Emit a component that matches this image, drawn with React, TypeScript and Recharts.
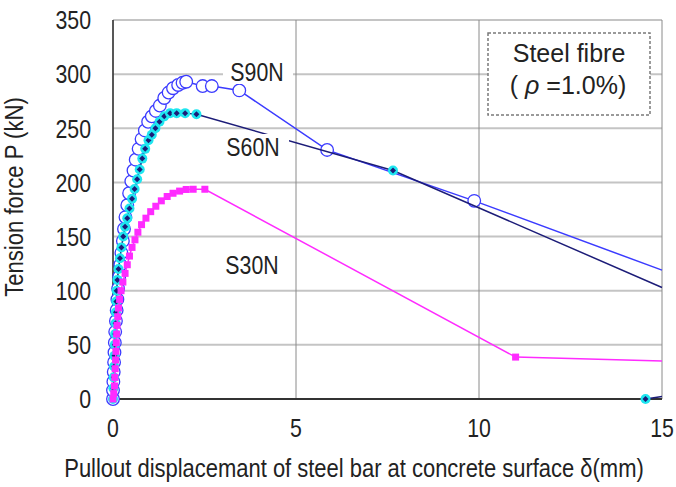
import React from 'react';
import { ScatterChart, Scatter, XAxis, YAxis, CartesianGrid } from 'recharts';

// Arial-Narrow-like lettering: Liberation Sans squeezed horizontally
const SANS = "'Liberation Sans', Arial, sans-serif";
const SQUEEZE = 0.82;

const xTicks = [0, 5, 10, 15];
const yTicks = [0, 50, 100, 150, 200, 250, 300, 350];

// pullout displacement δ (mm), tension force P (kN)
const s90Points: [number, number][] = [
  [0, 0], [0, 8], [0.01, 16], [0.02, 25], [0.03, 34], [0.04, 43], [0.05, 52], [0.06, 62],
  [0.08, 72], [0.1, 82], [0.12, 92], [0.14, 102], [0.17, 113], [0.2, 124], [0.23, 135],
  [0.27, 146], [0.3, 157], [0.34, 168], [0.39, 179], [0.44, 190], [0.5, 201], [0.56, 211],
  [0.62, 221], [0.7, 231], [0.78, 240], [0.87, 248], [0.96, 256], [1.06, 261], [1.17, 266],
  [1.28, 271], [1.4, 278], [1.52, 283], [1.64, 287], [1.78, 290], [1.9, 292], [2.0, 293],
  [2.45, 289], [2.7, 289], [3.45, 285], [5.85, 230], [9.87, 183],
];
const s90End: [number, number] = [15, 119];

const s60Points: [number, number][] = [
  [0, 0], [0.01, 10], [0.02, 20], [0.03, 30], [0.04, 40], [0.05, 50], [0.06, 60], [0.07, 70],
  [0.08, 80], [0.09, 90], [0.1, 100], [0.12, 110], [0.15, 120], [0.19, 130], [0.23, 140],
  [0.28, 150], [0.33, 159], [0.39, 167], [0.45, 176], [0.52, 185], [0.59, 194], [0.66, 203],
  [0.73, 212], [0.8, 222], [0.88, 231], [0.97, 239], [1.06, 244], [1.16, 250], [1.27, 256],
  [1.4, 261], [1.56, 264], [1.74, 264], [1.97, 264], [2.28, 263], [7.65, 211],
];
const s60End: [number, number] = [15, 103];
const s60Tail: [number, number][] = [[14.55, 0]];
const s60TailEnd: [number, number] = [15, 2.4];

const s30Points: [number, number][] = [
  [0, 0], [0.02, 5], [0.04, 12], [0.05, 20], [0.06, 28], [0.07, 36], [0.08, 44], [0.09, 52],
  [0.1, 60], [0.11, 68], [0.13, 76], [0.15, 84], [0.18, 92], [0.22, 100], [0.27, 108],
  [0.33, 116], [0.39, 124], [0.45, 132], [0.52, 140], [0.6, 147], [0.68, 154], [0.78, 161],
  [0.9, 167], [1.03, 173], [1.17, 178], [1.32, 183], [1.48, 187], [1.64, 190], [1.82, 192],
  [2.0, 193.5], [2.19, 193.7], [2.51, 193.7], [11.0, 38.7],
];
const s30End: [number, number] = [15, 35];

type Pt = { x: number; y: number; edge?: boolean };

// the last point of a branch sits on the plot edge and carries no marker
const toData = (pts: [number, number][], end?: [number, number]): Pt[] => [
  ...pts.map(([x, y]) => ({ x, y })),
  ...(end ? [{ x: end[0], y: end[1], edge: true }] : []),
];

const S90_COLOR = '#3b3bff';
const S60_LINE = '#1c1c78';
const S60_FILL = '#1ee6f0';
const S30_COLOR = '#ff2bff';
const TEXT = '#222';

const OpenCircle = (p: any) =>
  p.payload?.edge ? <g /> : (
    <circle cx={p.cx} cy={p.cy} r={6.3} fill="#fff" stroke={S90_COLOR} strokeWidth={1.3} />
  );

const CyanDiamond = (p: any) =>
  p.payload?.edge ? <g /> : (
    <g>
      <circle cx={p.cx} cy={p.cy} r={5} fill={S60_FILL} />
      <path
        d={`M${p.cx},${p.cy - 3}L${p.cx + 3},${p.cy}L${p.cx},${p.cy + 3}L${p.cx - 3},${p.cy}Z`}
        fill={S60_LINE}
      />
    </g>
  );

const PinkSquare = (p: any) =>
  p.payload?.edge ? <g /> : (
    <rect x={p.cx - 3.5} y={p.cy - 3.5} width={7} height={7} fill={S30_COLOR} />
  );

// condensed text drawn around its anchor point
function NText({ x, y, children, anchor = 'middle', dy, size = 26, rotate = 0, squeeze = SQUEEZE }: any) {
  return (
    <g transform={`translate(${x},${y}) rotate(${rotate}) scale(${squeeze},1)`}>
      <text x={0} y={0} dy={dy} textAnchor={anchor} fontFamily={SANS} fontSize={size} fill={TEXT}>
        {children}
      </text>
    </g>
  );
}

const XTick = ({ x, y, payload }: any) => (
  <NText x={x} y={y} dy="0.71em">{payload.value}</NText>
);

const YTick = ({ x, y, payload }: any) => (
  <NText x={x} y={y} dy="0.355em" anchor="end">{payload.value}</NText>
);

function SeriesLabel({ x, y, text }: { x: number; y: number; text: string }) {
  return (
    <g>
      <rect x={x - 34} y={y - 22} width={70} height={25} fill="#fff" />
      <NText x={x} y={y}>{text}</NText>
    </g>
  );
}

export default function App() {
  return (
    <div style={{ position: 'absolute', top: 0, left: 0, width: 676, height: 487, background: '#fff' }}>
      <ScatterChart width={676} height={487} margin={{ top: 20, right: 14, bottom: 0, left: 0 }}>
        <CartesianGrid vertical={false} stroke="#c4c4c4" strokeWidth={2} />
        <CartesianGrid horizontal={false} stroke="#8a8a8a" strokeWidth={1} />
        <XAxis
          type="number"
          dataKey="x"
          domain={[0, 15]}
          ticks={xTicks}
          interval={0}
          height={88}
          tickSize={0}
          tickMargin={20}
          axisLine={{ stroke: '#333', strokeWidth: 2 }}
          tick={XTick}
        />
        <YAxis
          type="number"
          dataKey="y"
          domain={[0, 350]}
          ticks={yTicks}
          interval={0}
          width={113}
          tickSize={0}
          tickMargin={22}
          axisLine={{ stroke: '#333', strokeWidth: 1.5 }}
          tick={YTick}
        />
        <Scatter
          name="S90N"
          data={toData(s90Points, s90End)}
          line={{ stroke: S90_COLOR, strokeWidth: 1.5 }}
          lineType="joint"
          shape={OpenCircle}
          isAnimationActive={false}
        />
        <Scatter
          name="S60N"
          data={toData(s60Points, s60End)}
          line={{ stroke: S60_LINE, strokeWidth: 1.5 }}
          lineType="joint"
          shape={CyanDiamond}
          isAnimationActive={false}
        />
        <Scatter
          name="S60N tail"
          data={toData(s60Tail, s60TailEnd)}
          line={{ stroke: S60_LINE, strokeWidth: 1.5 }}
          lineType="joint"
          shape={CyanDiamond}
          isAnimationActive={false}
        />
        <Scatter
          name="S30N"
          data={toData(s30Points, s30End)}
          line={{ stroke: S30_COLOR, strokeWidth: 1.5 }}
          lineType="joint"
          shape={PinkSquare}
          isAnimationActive={false}
        />
      </ScatterChart>

      <svg width={676} height={487} style={{ position: 'absolute', top: 0, left: 0, pointerEvents: 'none' }}>
        <SeriesLabel x={257} y={81} text="S90N" />
        <SeriesLabel x={253} y={156} text="S60N" />
        <SeriesLabel x={252} y={274} text="S30N" />

        <rect x={488} y={33} width={162} height={82} fill="#fff" stroke="#7a7a7a" strokeWidth={1.5} strokeDasharray="3 2" />
        <text x={569} y={62} textAnchor="middle" fontFamily={SANS} fontSize={25} fill={TEXT}>
          Steel fibre
        </text>
        <text x={568} y={94} textAnchor="middle" fontFamily={SANS} fontSize={25} fill={TEXT}>
          {'( '}
          <tspan fontStyle="italic">ρ</tspan>
          {' =1.0%)'}
        </text>

        <NText x={23} y={197} rotate={-90} squeeze={0.85}>Tension force P (kN)</NText>
        <NText x={354} y={477} squeeze={0.845}>Pullout displacemant of steel bar at concrete surface δ(mm)</NText>
      </svg>
    </div>
  );
}
